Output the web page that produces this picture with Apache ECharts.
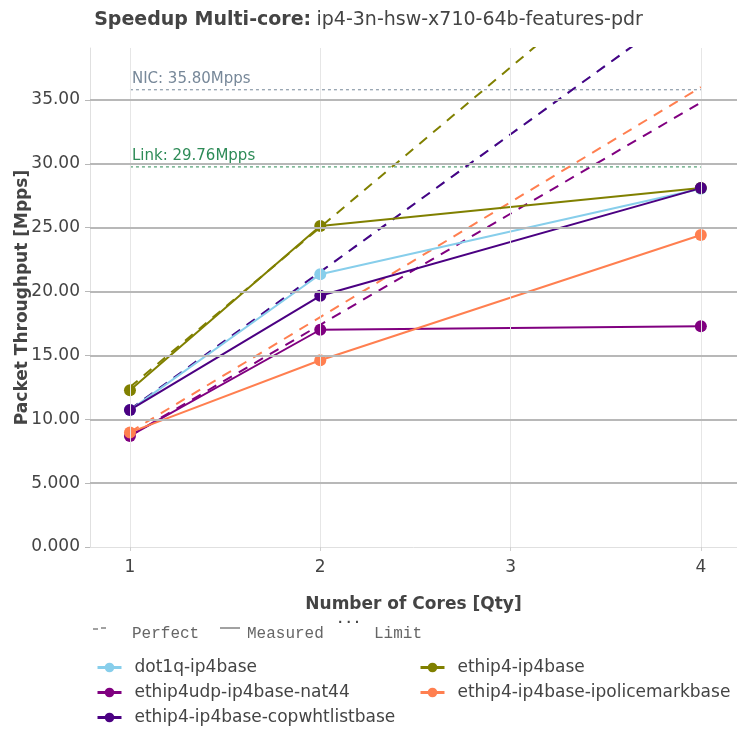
<!DOCTYPE html>
<html><head><meta charset="utf-8">
<script src="https://cdn.jsdelivr.net/npm/echarts@6/dist/echarts.min.js"></script>
<style>html,body{margin:0;padding:0;background:#fff}#c{width:737px;height:733px}</style>
</head><body><div id="c"></div>
<script>
// ---- data ----
const cores = [1, 2, 4];
const xTicks = [1, 2, 3, 4];
const yTicks = [0, 5, 10, 15, 20, 25, 30, 35];
const seriesNames = ['dot1q-ip4base', 'ethip4-ip4base', 'ethip4udp-ip4base-nat44',
  'ethip4-ip4base-ipolicemarkbase', 'ethip4-ip4base-copwhtlistbase'];
const dot1q = [10.72, 21.36, 28.05];
const ethip4 = [12.27, 25.14, 28.10];
const nat44 = [8.70, 17.01, 17.29];
const policemark = [8.97, 14.62, 24.43];
const copwhtlist = [10.73, 19.67, 28.10];
const dot1qPerfect = [10.77, 21.54, 43.08];
const ethip4Perfect = [12.52, 25.04, 50.08];
const nat44Perfect = [8.70, 17.40, 34.80];
const policemarkPerfect = [9.00, 18.00, 36.00];
const copwhtlistPerfect = [10.77, 21.54, 43.08];
const nicLimit = 35.80;
const linkLimit = 29.76;
const limitCores = [1, 4];

const measured = [dot1q, ethip4, nat44, policemark, copwhtlist];
const perfect = [dot1qPerfect, ethip4Perfect, nat44Perfect, policemarkPerfect, copwhtlistPerfect];
const colors = ['#87CEEB', '#808000', '#800080', '#FF7F50', '#4B0082'];

const FONT = 'DejaVu Sans';
const MONO = '"Liberation Mono", "DejaVu Sans Mono", monospace';
const pairs = (arr) => cores.map((c, i) => [c, arr[i]]);

const series = [];
// grid lines (drawn through axes via markLine)
series.push({
  type: 'line', data: [], silent: true, z: 0,
  markLine: {
    silent: true, symbol: 'none', label: {show: false},
    data: xTicks.map(v => ({xAxis: v, lineStyle: {color: '#e6e6e6', width: 1, type: 'solid'}}))
      .concat(yTicks.filter(v => v > 0).map(v => ({yAxis: v, lineStyle: {color: '#b8b8b8', width: 2, type: 'solid'}})))
  }
});
// limits
[[nicLimit, '#778899', 'NIC: ' + nicLimit.toFixed(2) + 'Mpps'], [linkLimit, '#2E8B57', 'Link: ' + linkLimit.toFixed(2) + 'Mpps']].forEach(([v, col, txt]) => {
  series.push({
    type: 'line', z: 1, silent: true,
    data: limitCores.map((c, i) => ({
      value: [c, v],
      label: i === 0 ? {show: true, formatter: txt, position: [2, -18], color: col, fontFamily: FONT, fontSize: 15, align: 'left'} : {show: false}
    })),
    symbol: 'circle', symbolSize: 0.1, itemStyle: {color: 'rgba(0,0,0,0)'},
    lineStyle: {color: col, width: 1, type: [3, 3]}
  });
});
// perfect (dashed)
perfect.forEach((arr, i) => {
  series.push({
    type: 'line', z: 2, silent: true, data: pairs(arr), symbol: 'none',
    lineStyle: {color: colors[i], width: 2, type: [10, 8]}, clip: true
  });
});
// measured
measured.forEach((arr, i) => {
  series.push({
    name: seriesNames[i], type: 'line', z: 3, data: pairs(arr),
    symbol: 'circle', symbolSize: 12,
    itemStyle: {color: colors[i]}, lineStyle: {color: colors[i], width: 2}
  });
});

const legendCommon = {
  orient: 'vertical', itemWidth: 24, itemHeight: 12, itemGap: 8, padding: 0, height: 90,
  lineStyle: {width: 3},
  textStyle: {fontFamily: FONT, fontSize: 17, color: '#444', padding: [0, 0, 0, 8]}
};

const chart = echarts.init(document.getElementById('c'), null, {renderer: 'canvas'});
chart.setOption({
  backgroundColor: '#fff',
  animation: false,
  title: {
    text: '{b|Speedup Multi-core:} {n|ip4-3n-hsw-x710-64b-features-pdr}',
    left: 'center', top: 6,
    textStyle: {fontWeight: 'normal', fontSize: 19, rich: {
      b: {fontFamily: FONT, fontSize: 19, fontWeight: 'bold', color: '#444'},
      n: {fontFamily: FONT, fontSize: 19, fontWeight: 'normal', color: '#444'}
    }}
  },
  grid: {left: 90, top: 48, right: 0, bottom: 186, containLabel: false, outerBoundsMode: 'none'},
  xAxis: {
    type: 'value', min: 0.79, max: 4.19,
    name: 'Number of Cores [Qty]', nameLocation: 'middle', nameGap: 49, nameMoveOverlap: false,
    nameTextStyle: {fontFamily: FONT, fontSize: 17, fontWeight: 'bold', color: '#444'},
    axisLine: {show: true, lineStyle: {color: '#e0e0e0', width: 1}},
    axisTick: {show: true, customValues: xTicks, length: 4, lineStyle: {color: '#d0d0d0'}},
    axisLabel: {customValues: xTicks, fontFamily: FONT, fontSize: 17, color: '#444', margin: 12, formatter: v => String(v)},
    splitLine: {show: false}
  },
  yAxis: {
    type: 'value', min: 0, max: 39.07,
    name: 'Packet Throughput [Mpps]', nameLocation: 'middle', nameGap: 59, nameMoveOverlap: false,
    nameTextStyle: {fontFamily: FONT, fontSize: 17, fontWeight: 'bold', color: '#444'},
    axisLine: {show: true, lineStyle: {color: '#e0e0e0', width: 1}},
    axisTick: {show: true, customValues: yTicks, length: 5, lineStyle: {color: '#b8b8b8'}},
    axisLabel: {customValues: yTicks, fontFamily: FONT, fontSize: 17, color: '#444', margin: 10,
      formatter: v => v < 10 ? v.toFixed(3) : v.toFixed(2)},
    splitLine: {show: false}
  },
  legend: [
    Object.assign({}, legendCommon, {left: 96, top: 659, data: [seriesNames[0], seriesNames[2], seriesNames[4]]}),
    Object.assign({}, legendCommon, {left: 419, top: 659, data: [seriesNames[1], seriesNames[3]]})
  ],
  graphic: [
    {type: 'line', shape: {x1: 93, y1: 629, x2: 98, y2: 629}, style: {stroke: '#444', lineWidth: 1}},
    {type: 'line', shape: {x1: 101, y1: 628, x2: 106, y2: 628}, style: {stroke: '#444', lineWidth: 1}},
    {type: 'text', left: 132, top: 626, style: {text: 'Perfect', font: '16px ' + MONO, fill: '#666'}},
    {type: 'line', shape: {x1: 220, y1: 628, x2: 240, y2: 628}, style: {stroke: '#444', lineWidth: 1}},
    {type: 'text', left: 247, top: 626, style: {text: 'Measured', font: '16px ' + MONO, fill: '#666'}},
    {type: 'text', left: 336, top: 612, style: {text: '...', font: 'bold 14px ' + MONO, fill: '#444'}},
    {type: 'text', left: 374, top: 626, style: {text: 'Limit', font: '16px ' + MONO, fill: '#666'}}
  ],
  series: series
});
</script></body></html>
